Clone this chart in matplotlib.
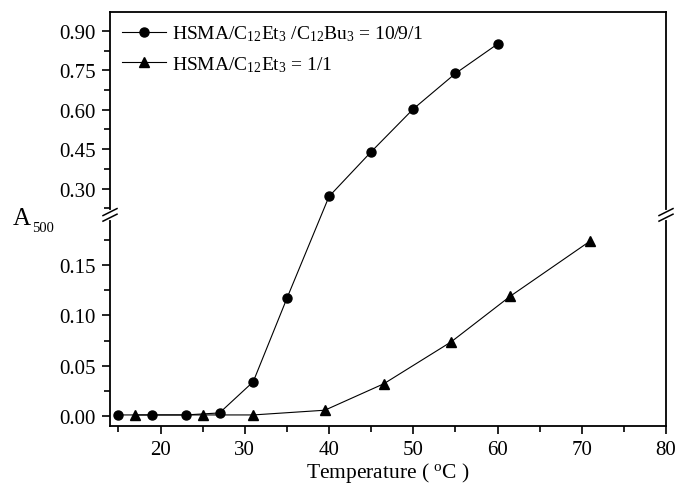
import numpy as np
import matplotlib
matplotlib.use("Agg")
import matplotlib.pyplot as plt
from matplotlib.ticker import FixedLocator, FormatStrFormatter

plt.rcParams['font.family'] = ['Liberation Serif', 'DejaVu Serif']
plt.rcParams['mathtext.fontset'] = 'custom'
plt.rcParams['mathtext.rm'] = 'Liberation Serif'
plt.rcParams['mathtext.it'] = 'Liberation Serif'
plt.rcParams['mathtext.default'] = 'regular'

# Data
temp_a = [15, 19, 23, 27, 31, 35, 40, 45, 50, 55, 60]
abs_a = [0.001, 0.001, 0.001, 0.003, 0.034, 0.117, 0.27, 0.44, 0.603, 0.738, 0.850]
temp_b = [17, 25, 31, 39.5, 46.5, 54.5, 61.5, 71]
abs_b = [0.001, 0.001, 0.001, 0.0057, 0.032, 0.0737, 0.119, 0.174]
label_a = r"HSMA/C$_{12}$Et$_3$ /C$_{12}$Bu$_3$ = 10/9/1"
label_b = r"HSMA/C$_{12}$Et$_3$ = 1/1"
yticks_major = [0.0, 0.05, 0.10, 0.15, 0.30, 0.45, 0.60, 0.75, 0.90]
yticks_minor = [0.025, 0.075, 0.125, 0.175, 0.225, 0.375, 0.525, 0.675, 0.825]
xticks_major = [20, 30, 40, 50, 60, 70, 80]
xticks_minor = [15, 25, 35, 45, 55, 65, 75]

BRK = 0.2
K = 0.2614

def fwd(y):
    y = np.asarray(y, dtype=float)
    return np.where(y <= BRK, y, BRK + (y - BRK) * K)

def inv(t):
    t = np.asarray(t, dtype=float)
    return np.where(t <= BRK, t, BRK + (t - BRK) / K)

fig = plt.figure(figsize=(6.78, 4.85), dpi=100)
ax = fig.add_axes([110/678, 1 - 427/485, 556/678, 414/485])
ax.set_yscale('function', functions=(fwd, inv))

ax.plot(temp_a, abs_a, '-', color='black', lw=0.8, marker='o', ms=6.5, label=label_a)
ax.plot(temp_b, abs_b, '-', color='black', lw=0.8, marker='^', ms=7, label=label_b)

ax.set_xlim(14, 80)
ax.set_ylim(-0.01, 0.972)

ax.xaxis.set_major_locator(FixedLocator(xticks_major))
ax.xaxis.set_minor_locator(FixedLocator(xticks_minor))
ax.yaxis.set_major_locator(FixedLocator(yticks_major))
ax.yaxis.set_minor_locator(FixedLocator(yticks_minor))
ax.yaxis.set_major_formatter(FormatStrFormatter('%.2f'))
ax.yaxis.set_minor_formatter(plt.NullFormatter())

ax.tick_params(which='both', direction='out', top=False, right=False, width=1.2, labelsize=15)
ax.tick_params(which='major', length=6, pad=4)
ax.tick_params(which='minor', length=4)
for s in ax.spines.values():
    s.set_linewidth(1.3)

ax.set_xlabel(r"Temperature ( $^{o}$C )", fontsize=15.5, labelpad=1)

# break position in axes coords
t0, t1 = fwd(-0.01), fwd(0.972)
yb = float((fwd(BRK) - t0) / (t1 - t0))

# y label "A" with small subscript
fig.text(13/678, 1 - 225/485, "A", fontsize=18, ha='left', va='baseline')
fig.text(32/678, 1 - 232/485, "500", fontsize=10.5, ha='left', va='baseline')

# break marks
W, H = 556.0, 414.0
dx = 7 / W
dy = 3.5 / H
gap = 2.8 / H
for xs in (0.0, 1.0):
    ax.plot([xs, xs], [yb - gap, yb + gap], color='white', lw=3,
            transform=ax.transAxes, clip_on=False, zorder=5)
    for off in (-gap, gap):
        ax.plot([xs - dx, xs + dx], [yb + off - dy, yb + off + dy], color='black',
                lw=1.1, transform=ax.transAxes, clip_on=False, zorder=6)

ax.legend(loc='upper left', frameon=False, fontsize=14, handlelength=2.3,
          borderaxespad=0.2, labelspacing=0.55, handletextpad=0.3,
          bbox_to_anchor=(0.0, 1.0))

fig.savefig('out.png', dpi=100)
